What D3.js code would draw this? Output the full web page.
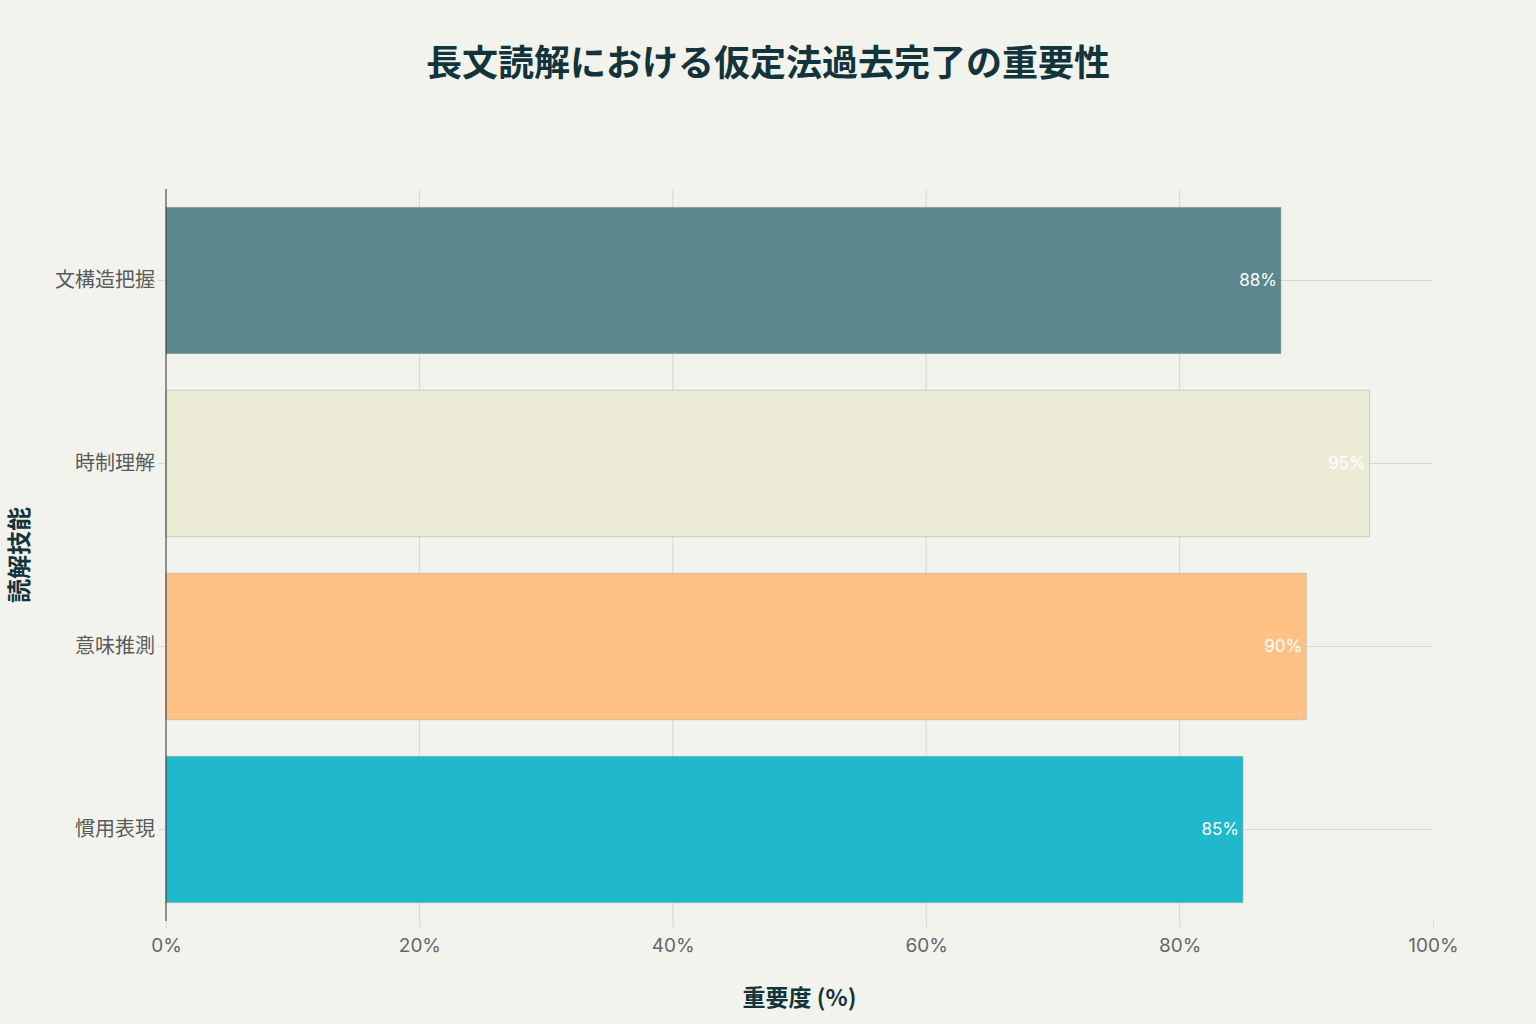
<!DOCTYPE html>
<html>
<head>
<meta charset="utf-8">
<title>長文読解における仮定法過去完了の重要性</title>
<script src="https://d3js.org/d3.v7.min.js"></script>
<style>
  body { margin: 0; background: #F3F3EE; }
  svg { display: block; font-family: Inter, "Noto Sans CJK JP", sans-serif; }
</style>
</head>
<body>
<svg id="chart"></svg>
<script>
// data
const skills = ['文構造把握', '時制理解', '意味推測', '慣用表現']
const importance = [88, 95, 90, 85]
const barColors = ['#5D878F', '#ECEBD5', '#FFC185', '#1FB8CD']
const xTicks = [0, 20, 40, 60, 80, 100]

const W = 1536, H = 1024
const margin = { top: 189, right: 103, bottom: 103, left: 166 }

const svg = d3.select('#chart').attr('width', W).attr('height', H)

const x = d3.scaleLinear()
  .domain([0, 100])
  .range([margin.left, W - margin.right])

const y = d3.scaleBand()
  .domain(skills)
  .range([margin.top, H - margin.bottom])
  .paddingInner(0.2)
  .paddingOuter(0.1)

const fontCJK = '"Noto Sans CJK JP", sans-serif'

// vertical grid (no line at 100%)
svg.append('g')
  .selectAll('line')
  .data(xTicks.filter(d => d > 0 && d < 100))
  .enter().append('line')
  .attr('x1', d => x(d)).attr('x2', d => x(d))
  .attr('y1', margin.top).attr('y2', H - margin.bottom)
  .attr('stroke', '#D8D8D2').attr('stroke-width', 1)

// horizontal grid at category centres
svg.append('g')
  .selectAll('line')
  .data(skills)
  .enter().append('line')
  .attr('x1', margin.left).attr('x2', x(100))
  .attr('y1', d => y(d) + y.bandwidth() / 2)
  .attr('y2', d => y(d) + y.bandwidth() / 2)
  .attr('stroke', '#D8D8D2').attr('stroke-width', 1)

// bars
svg.append('g')
  .selectAll('rect')
  .data(skills)
  .enter().append('rect')
  .attr('x', x(0))
  .attr('y', d => y(d))
  .attr('width', (d, i) => x(importance[i]) - x(0))
  .attr('height', y.bandwidth())
  .attr('fill', (d, i) => barColors[i])
  .attr('stroke', 'rgba(160,160,150,0.45)')
  .attr('stroke-width', 1)

// value labels inside bar end
svg.append('g')
  .selectAll('text')
  .data(skills)
  .enter().append('text')
  .attr('x', (d, i) => x(importance[i]) - 4)
  .attr('y', d => y(d) + y.bandwidth() / 2)
  .attr('dy', '0.35em')
  .attr('text-anchor', 'end')
  .attr('fill', '#FFFFFF')
  .style('font-size', '17px')
  .text((d, i) => importance[i] + '%')

// x axis
const xAxis = svg.append('g')
  .attr('transform', `translate(0,${H - margin.bottom})`)
  .call(d3.axisBottom(x).tickValues(xTicks).tickFormat(d => d + '%').tickSize(8).tickPadding(10))
xAxis.select('.domain').remove()
xAxis.selectAll('line').attr('stroke', '#D8D8D2')
xAxis.selectAll('text')
  .attr('fill', '#666666')
  .style('font-size', '19px')
  .style('font-family', 'Inter, sans-serif')

// y axis
const yAxis = svg.append('g')
  .attr('transform', `translate(${margin.left},0)`)
  .call(d3.axisLeft(y).tickSize(8).tickPadding(3))
yAxis.select('.domain').remove()
yAxis.selectAll('line').attr('stroke', '#D8D8D2')
yAxis.selectAll('text')
  .attr('fill', '#5a5a5a')
  .style('font-size', '20px')
  .style('font-family', fontCJK)

// zero line
svg.append('line')
  .attr('x1', x(0)).attr('x2', x(0))
  .attr('y1', margin.top).attr('y2', H - margin.bottom)
  .attr('stroke', '#2a2a2a').attr('stroke-width', 1)

// title
svg.append('text')
  .attr('x', W / 2)
  .attr('y', 76)
  .attr('text-anchor', 'middle')
  .attr('fill', '#13343B')
  .style('font-family', fontCJK)
  .style('font-weight', 'bold')
  .style('font-size', '36px')
  .text('長文読解における仮定法過去完了の重要性')

// axis titles
svg.append('text')
  .attr('x', (x(0) + x(100)) / 2)
  .attr('y', 1006)
  .attr('text-anchor', 'middle')
  .attr('fill', '#13343B')
  .style('font-family', fontCJK)
  .style('font-weight', 'bold')
  .style('font-size', '23px')
  .text('重要度 (%)')

svg.append('text')
  .attr('transform', `translate(28,${(margin.top + H - margin.bottom) / 2}) rotate(-90)`)
  .attr('text-anchor', 'middle')
  .attr('fill', '#13343B')
  .style('font-family', fontCJK)
  .style('font-weight', 'bold')
  .style('font-size', '24px')
  .text('読解技能')
</script>
</body>
</html>
